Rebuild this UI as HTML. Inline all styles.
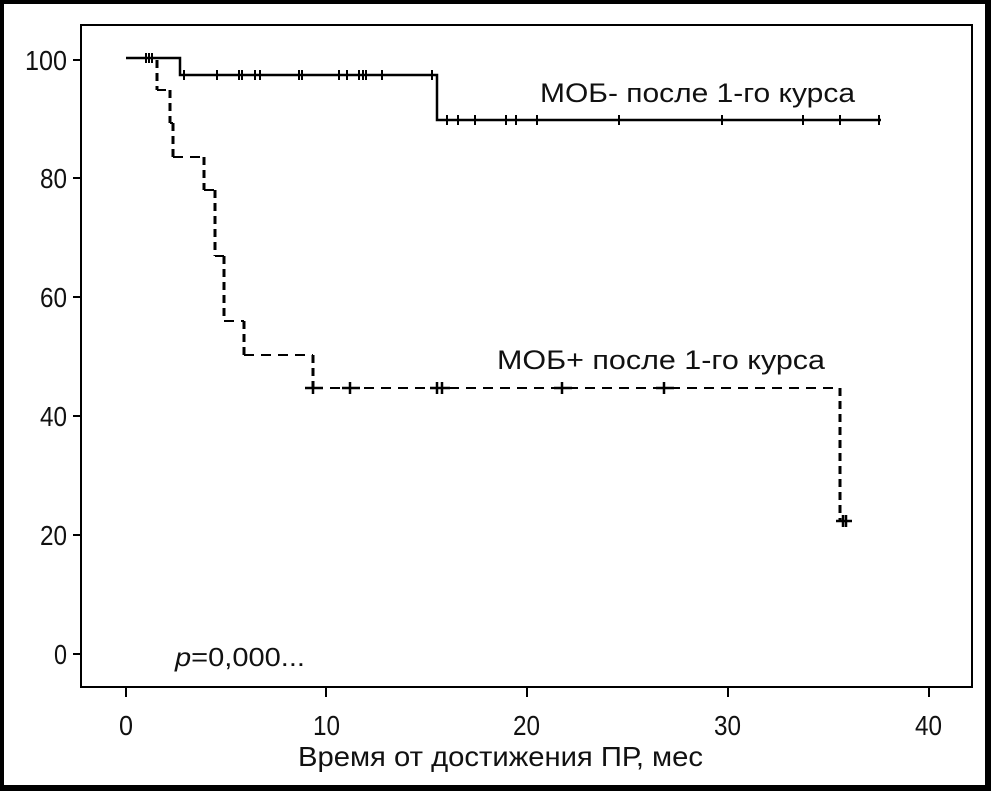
<!DOCTYPE html>
<html><head><meta charset="utf-8"><style>
html,body{margin:0;padding:0;background:#fff;}
svg{display:block;}
text{font-family:"Liberation Sans",sans-serif;fill:#111;}
</style></head><body>
<svg width="991" height="791" viewBox="0 0 991 791" xmlns="http://www.w3.org/2000/svg">
<rect x="0" y="0" width="991" height="791" fill="#000"/>
<rect x="4" y="4" width="981" height="781" fill="#fff"/>
<rect x="81" y="25" width="891" height="662" fill="none" stroke="#000" stroke-width="2"/>
<g stroke="#000" stroke-width="2">
<line x1="73" y1="60" x2="81" y2="60"/><line x1="73" y1="178" x2="81" y2="178"/>
<line x1="73" y1="297" x2="81" y2="297"/><line x1="73" y1="416" x2="81" y2="416"/>
<line x1="73" y1="535" x2="81" y2="535"/><line x1="73" y1="654" x2="81" y2="654"/>
<line x1="126" y1="687" x2="126" y2="697"/><line x1="326" y1="687" x2="326" y2="697"/>
<line x1="527" y1="687" x2="527" y2="697"/><line x1="728" y1="687" x2="728" y2="697"/>
<line x1="929" y1="687" x2="929" y2="697"/>
</g>
<g font-size="28" lengthAdjust="spacingAndGlyphs">
<text x="25" y="70" textLength="42" lengthAdjust="spacingAndGlyphs">100</text>
<text x="40" y="188" textLength="27" lengthAdjust="spacingAndGlyphs">80</text>
<text x="40" y="307" textLength="27" lengthAdjust="spacingAndGlyphs">60</text>
<text x="40" y="426" textLength="27" lengthAdjust="spacingAndGlyphs">40</text>
<text x="40" y="545" textLength="27" lengthAdjust="spacingAndGlyphs">20</text>
<text x="54" y="664" textLength="13" lengthAdjust="spacingAndGlyphs">0</text>
<text x="119" y="735" textLength="14" lengthAdjust="spacingAndGlyphs">0</text>
<text x="313" y="735" textLength="27" lengthAdjust="spacingAndGlyphs">10</text>
<text x="513" y="735" textLength="27" lengthAdjust="spacingAndGlyphs">20</text>
<text x="714" y="735" textLength="27" lengthAdjust="spacingAndGlyphs">30</text>
<text x="915" y="735" textLength="27" lengthAdjust="spacingAndGlyphs">40</text>
</g>
<text x="298" y="766" font-size="28" textLength="405" lengthAdjust="spacingAndGlyphs">Время от достижения ПР, мес</text>
<text x="175" y="666" font-size="26" textLength="130" lengthAdjust="spacingAndGlyphs"><tspan font-style="italic">p</tspan>=0,000...</text>
<text x="540" y="102" font-size="27" textLength="315" lengthAdjust="spacingAndGlyphs">МОБ- после 1-го курса</text>
<text x="497" y="369" font-size="27" textLength="328" lengthAdjust="spacingAndGlyphs">МОБ+ после 1-го курса</text>
<polyline points="126,58 180,58 180,75 437,75 437,120 881,120" fill="none" stroke="#000" stroke-width="2.5"/>
<g stroke="#000" stroke-width="2">
<path d="M146,53v10M149,53v10M152,53v10
M184,70v10M217,70v10M239,70v10M242,70v10M255,70v10M260,70v10M299,70v10M302,70v10M339,70v10M347,70v10M359,70v10M363,70v10M366,70v10M382,70v10M432,70v10
M447,115v10M458,115v10M475,115v10M506,115v10M516,115v10M537,115v10M619,115v10M722,115v10M803,115v10M840,115v10M879,115v10"/>
</g>
<g fill="none" stroke="#000" stroke-width="2" stroke-dasharray="10,7">
<polyline points="126,58 157,58"/>
<polyline points="157,90 166,90"/>
<polyline points="170,123 173,123"/>
<polyline points="173,157 204,157"/>
<polyline points="204,190 215,190"/>
<polyline points="215,256 224,256"/>
<polyline points="224,321 244,321"/>
<polyline points="244,355 313,355"/>
<polyline points="313,388 840,388"/>
<polyline points="840,521 852,521"/>
</g>
<g fill="none" stroke="#000" stroke-width="3" stroke-dasharray="8,5">
<path d="M157,60V90M170,90V123M173,123V157M204,157V190M215,190V256M224,256V321M244,321V355M313,355V388M840,388V521"/>
</g>
<g stroke="#000" stroke-width="2.5">
<path d="M305,388h18M313,382v12M342,388h18M350,382v12M430,388h20M437,382v12M442,382v12M554,388h18M562,382v12M656,388h18M664,382v12M836,521h16M843,515v12M846,515v12"/>
</g>
</svg>
</body></html>
